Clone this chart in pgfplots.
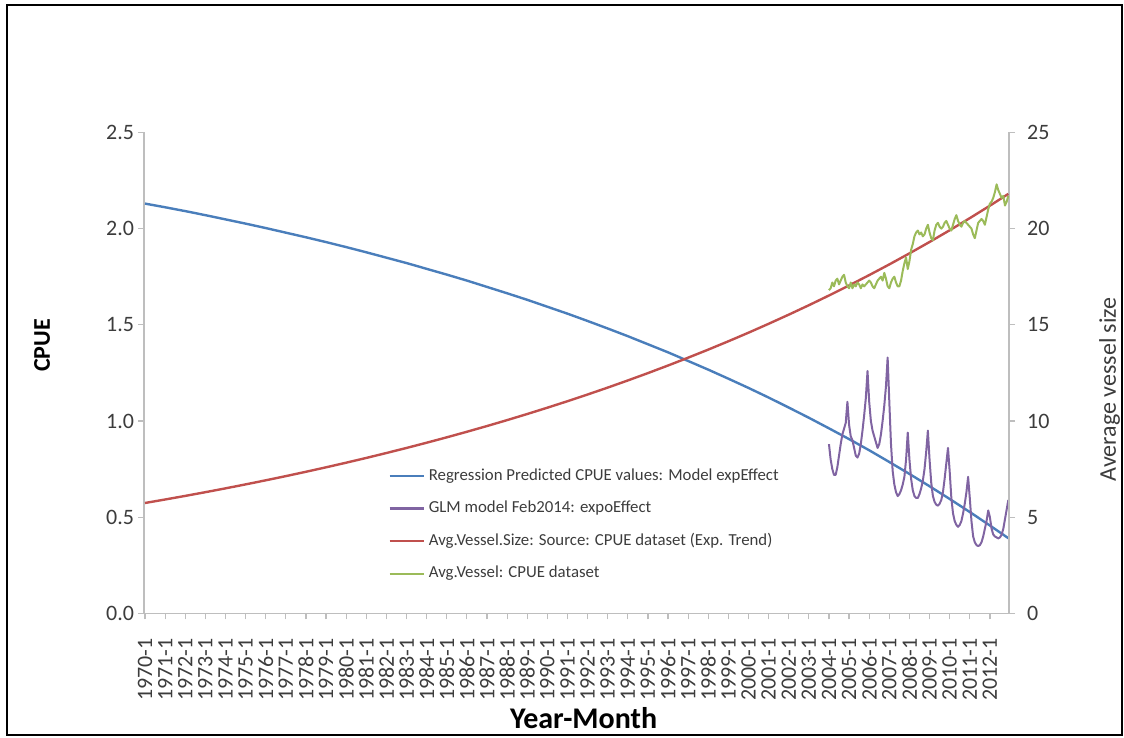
\documentclass[border=0pt]{standalone}
\usepackage{pgfplots}
\pgfplotsset{compat=1.18}
\usepackage{pgfplotstable}
\usepackage{fontspec}
\setmainfont{Carlito}

\definecolor{cpueblue}{RGB}{74,126,187}
\definecolor{glmpurple}{RGB}{128,100,162}
\definecolor{trendred}{RGB}{192,80,77}
\definecolor{vesselgreen}{RGB}{155,187,89}
\definecolor{axisgray}{RGB}{190,190,190}
\definecolor{labelgray}{RGB}{60,60,60}

% month index m: 0 = 1970-1, 515 = 2012-12
% yearly points of the two fitted curves
\pgfplotstableread{
m    cpue   vessel
0    2.130  5.740
12   2.111  5.921
24   2.091  6.108
36   2.070  6.301
48   2.048  6.500
60   2.026  6.706
72   2.003  6.918
84   1.979  7.136
96   1.955  7.362
108  1.930  7.594
120  1.904  7.834
132  1.877  8.081
144  1.849  8.337
156  1.821  8.600
168  1.791  8.872
180  1.761  9.152
192  1.730  9.441
204  1.697  9.739
216  1.664  10.047
228  1.630  10.364
240  1.594  10.692
252  1.558  11.029
264  1.520  11.378
276  1.481  11.737
288  1.441  12.108
300  1.399  12.490
312  1.357  12.885
324  1.312  13.292
336  1.267  13.712
348  1.220  14.145
360  1.172  14.591
372  1.122  15.053
384  1.070  15.528
396  1.017  16.018
408  0.962  16.524
420  0.906  17.046
432  0.848  17.585
444  0.787  18.140
456  0.725  18.713
468  0.661  19.305
480  0.595  19.914
492  0.527  20.543
504  0.457  21.192
515  0.391  21.805
}\trendtable

% monthly GLM index and observed average vessel size, 2004-1 to 2012-12
\pgfplotstableread{
m    glm    vessel
408  0.88   16.8
409  0.80   16.9
410  0.75   17.2
411  0.72   17.0
412  0.72   17.3
413  0.76   17.4
414  0.82   17.1
415  0.88   17.3
416  0.93   17.5
417  0.96   17.6
418  0.99   17.2
419  1.10   17.0
420  0.98   16.9
421  0.92   17.2
422  0.90   16.9
423  0.86   17.1
424  0.82   17.0
425  0.81   17.2
426  0.83   17.1
427  0.88   16.9
428  0.95   17.1
429  1.03   17.0
430  1.12   17.1
431  1.26   17.2
432  1.10   17.3
433  1.00   17.2
434  0.95   17.0
435  0.92   16.9
436  0.89   17.1
437  0.86   17.3
438  0.88   17.4
439  0.93   17.5
440  1.00   17.3
441  1.08   17.7
442  1.18   17.4
443  1.33   17.0
444  1.10   16.9
445  0.88   17.2
446  0.74   17.4
447  0.67   17.5
448  0.63   17.2
449  0.61   17.0
450  0.62   17.0
451  0.64   17.3
452  0.67   17.8
453  0.71   18.2
454  0.80   18.5
455  0.94   17.9
456  0.80   18.3
457  0.70   18.9
458  0.64   19.2
459  0.61   19.6
460  0.60   19.8
461  0.60   19.9
462  0.62   19.7
463  0.65   19.8
464  0.69   19.6
465  0.75   19.7
466  0.84   20.0
467  0.95   20.2
468  0.80   19.8
469  0.68   19.5
470  0.61   19.4
471  0.58   19.9
472  0.565  20.2
473  0.56   20.3
474  0.57   20.1
475  0.59   20.0
476  0.63   20.1
477  0.70   20.3
478  0.78   20.4
479  0.86   20.2
480  0.74   20.0
481  0.60   19.9
482  0.52   20.2
483  0.48   20.5
484  0.46   20.7
485  0.45   20.4
486  0.46   20.2
487  0.48   20.1
488  0.52   20.3
489  0.57   20.4
490  0.63   20.3
491  0.71   20.2
492  0.60   20.1
493  0.48   20.0
494  0.40   19.7
495  0.37   19.5
496  0.355  19.9
497  0.35   20.3
498  0.355  20.4
499  0.37   20.5
500  0.40   20.4
501  0.44   20.2
502  0.48   20.6
503  0.535  21.0
504  0.50   21.3
505  0.44   21.4
506  0.41   21.6
507  0.40   21.9
508  0.395  22.3
509  0.39   22.0
510  0.395  21.8
511  0.41   21.6
512  0.44   21.7
513  0.49   21.2
514  0.54   21.4
515  0.59   21.7
}\monthlytable

\pgfplotsset{
  commonaxis/.style={
    at={(86,64.75)}, anchor=south west,
    scale only axis, width=432.5pt, height=240.5pt,
    xmin=-0.5, xmax=515.5,
    axis line style={-, axisgray, line width=0.8pt},
    tick style={axisgray, line width=0.6pt},
    tick align=outside,
    major tick length=3pt,
    /pgf/number format/assume math mode=true,
    tick label style={text=labelgray, font=\fontsize{11}{13}\selectfont},
  },
}

\begin{document}
\begin{tikzpicture}[x=1pt,y=1pt]
\useasboundingbox (0,0) rectangle (562,369);
\draw[line width=1.1pt] (3.6,1.6) rectangle (561,366.6);

% left axis: CPUE
\begin{axis}[
  commonaxis,
  ymin=0, ymax=2.5,
  axis y line*=left, axis x line*=bottom,
  ytick={0,0.5,...,2.5},
  yticklabel style={xshift=1.5pt, /pgf/number format/.cd, fixed, fixed zerofill, precision=1},
  xtick={0,12,...,504},
  xticklabels={1970-1,1971-1,1972-1,1973-1,1974-1,1975-1,1976-1,1977-1,1978-1,1979-1,
    1980-1,1981-1,1982-1,1983-1,1984-1,1985-1,1986-1,1987-1,1988-1,1989-1,
    1990-1,1991-1,1992-1,1993-1,1994-1,1995-1,1996-1,1997-1,1998-1,1999-1,
    2000-1,2001-1,2002-1,2003-1,2004-1,2005-1,2006-1,2007-1,2008-1,2009-1,
    2010-1,2011-1,2012-1},
  xticklabel shift=6pt,
  xticklabel style={rotate=90, anchor=east},
  ylabel={CPUE},
  ylabel style={at={(axis description cs:-0.118,0.557)}, anchor=center,
    font=\bfseries\fontsize{12}{14}\selectfont},
  xlabel={Year-Month},
  xlabel style={at={(axis description cs:0.508,-0.218)}, anchor=center,
    font=\bfseries\fontsize{15}{17}\selectfont},
]
\addplot[cpueblue, line width=1.2pt] table[x=m, y=cpue] {\trendtable};
\addplot[glmpurple, line width=1pt, line join=round] table[x=m, y=glm] {\monthlytable};
\end{axis}

% right axis: average vessel size
\begin{axis}[
  commonaxis,
  ymin=0, ymax=25,
  axis y line*=right, axis x line=none,
  ytick={0,5,...,25},
  yticklabel style={xshift=2.5pt, /pgf/number format/.cd, fixed, precision=0},
  ylabel={Average vessel size},
  ylabel style={at={(axis description cs:1.116,0.466)}, anchor=center,
    text=labelgray, font=\fontsize{12}{14}\selectfont},
  legend style={at={(axis description cs:0.275,0.318)}, anchor=north west,
    draw=none, fill=none, font=\fontsize{8.4}{10}\selectfont,
    row sep=4.8pt, text=labelgray},
  legend cell align=left,
  legend image code/.code={\draw[#1] (0pt,0pt) -- (17pt,0pt);},
]
\addlegendimage{cpueblue, line width=1.2pt}
\addlegendentry{Regression Predicted CPUE values: Model expEffect}
\addlegendimage{glmpurple, line width=1.2pt}
\addlegendentry{GLM model Feb2014: expoEffect}
\addplot[trendred, line width=1.2pt] table[x=m, y=vessel] {\trendtable};
\addlegendentry{Avg.Vessel.Size: Source: CPUE dataset (Exp. Trend)}
\addplot[vesselgreen, line width=1pt, line join=round] table[x=m, y=vessel] {\monthlytable};
\addlegendentry{Avg.Vessel: CPUE dataset}
\end{axis}
\end{tikzpicture}
\end{document}
